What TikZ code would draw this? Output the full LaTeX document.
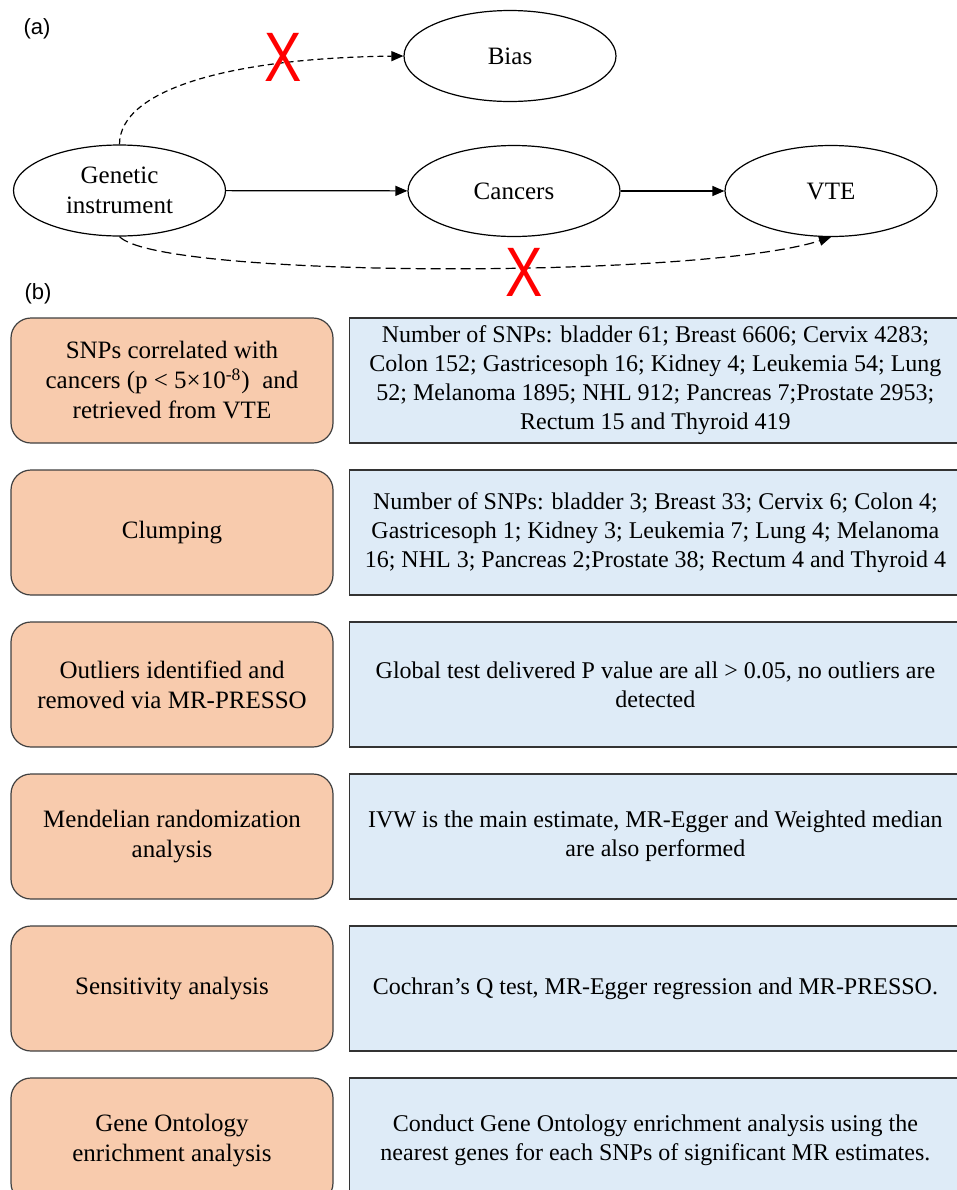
\documentclass[tikz,border=0pt]{standalone}
\usepackage{fontspec}
\setmainfont{LiberationSerif}[Extension=.ttf, UprightFont=*-Regular,
  BoldFont=*-Bold, ItalicFont=*-Italic, BoldItalicFont=*-BoldItalic]
\newfontfamily\panelfont{Liberation Sans}
\usetikzlibrary{shapes.geometric,arrows.meta,positioning}
\definecolor{stagefill}{HTML}{F8CBAD}
\definecolor{detailfill}{HTML}{DEEBF7}

\begin{document}
\begin{tikzpicture}[x=0.5pt,y=-0.5pt,
  var/.style = {ellipse, draw, line width=0.6pt, minimum width=106pt,
    minimum height=45.5pt, inner sep=0pt, align=center,
    font=\fontsize{12.5}{15}\selectfont},
  link/.style = {line width=0.6pt, -{Triangle[length=6pt,width=5pt]}},
  cross/.style = {text=red, inner sep=0pt,
    font=\panelfont\fontsize{35}{35}\selectfont},
  panel/.style = {inner sep=0pt, font=\panelfont\fontsize{11}{13}\selectfont},
  stage/.style = {rectangle, rounded corners=10pt, draw=black!75,
    line width=0.6pt, fill=stagefill, minimum width=161pt,
    minimum height=62.5pt, inner sep=2pt, align=center,
    font=\fontsize{12.5}{15}\selectfont},
  detail/.style = {rectangle, draw=black!80, line width=0.8pt,
    fill=detailfill, minimum width=306pt, minimum height=62.5pt,
    inner sep=2pt, align=center, font=\fontsize{12}{14.5}\selectfont}]
  \useasboundingbox (0,0) rectangle (957,1190);

  \node[panel] (pa) at (37,29) {(a)};
  \node[var] (gen) at (119.5,190.5) {Genetic\\instrument};
  \node[var] (canc) at (514,191) {Cancers};
  \node[var] (vte) at (831,191) {VTE};
  \node[var] (bias) at (510,56) {Bias};
  \draw[link] (gen) -- (canc);
  \draw[link] (canc) -- (vte);
  \draw[link, dash pattern=on 3pt off 2pt]
    (gen.north) .. controls +(0,-55) and +(-173,2) .. (bias.west);
  \draw[link, dash pattern=on 5pt off 2.5pt]
    (gen.south) .. controls +(40,42) and +(-131,42) .. (vte.south);
  \node[cross] (cut1) at (283,57) {\scalebox{0.8}[1]{X}};
  \node[cross] (cut2) at (524,272) {\scalebox{0.8}[1]{X}};

  \node[panel] (pb) at (38,294) {(b)};
  \node[stage] (s1) at (172,380.5)
    {SNPs correlated with\\cancers (p < 5×10\textsuperscript{-8})\enspace and\\retrieved from VTE};
  \node[stage, below=12.9pt of s1] (s2) {Clumping};
  \node[stage, below=12.9pt of s2] (s3) {Outliers identified and\\removed via MR-PRESSO};
  \node[stage, below=12.9pt of s3] (s4) {Mendelian randomization\\analysis};
  \node[stage, below=12.9pt of s4] (s5) {Sensitivity analysis};
  \node[stage, below=12.9pt of s5] (s6) {Gene Ontology\\enrichment analysis};

  \node[detail, right=7.5pt of s1] (d1)
    {Number of SNPs: bladder 61; Breast 6606; Cervix 4283;\\
     Colon 152; Gastricesoph 16; Kidney 4; Leukemia 54; Lung\\
     52; Melanoma 1895; NHL 912; Pancreas 7;Prostate 2953;\\
     Rectum 15 and Thyroid 419};
  \node[detail, right=7.5pt of s2] (d2)
    {Number of SNPs: bladder 3; Breast 33; Cervix 6; Colon 4;\\
     Gastricesoph 1; Kidney 3; Leukemia 7; Lung 4; Melanoma\\
     16; NHL 3; Pancreas 2;Prostate 38; Rectum 4 and Thyroid 4};
  \node[detail, right=7.5pt of s3] (d3)
    {Global test delivered P value are all > 0.05, no outliers are\\detected};
  \node[detail, right=7.5pt of s4] (d4)
    {IVW is the main estimate, MR-Egger and Weighted median\\are also performed};
  \node[detail, right=7.5pt of s5] (d5)
    {Cochran’s Q test, MR-Egger regression and MR-PRESSO.};
  \node[detail, right=7.5pt of s6] (d6)
    {Conduct Gene Ontology enrichment analysis using the\\
     nearest genes for each SNPs of significant MR estimates.};
\end{tikzpicture}
\end{document}
